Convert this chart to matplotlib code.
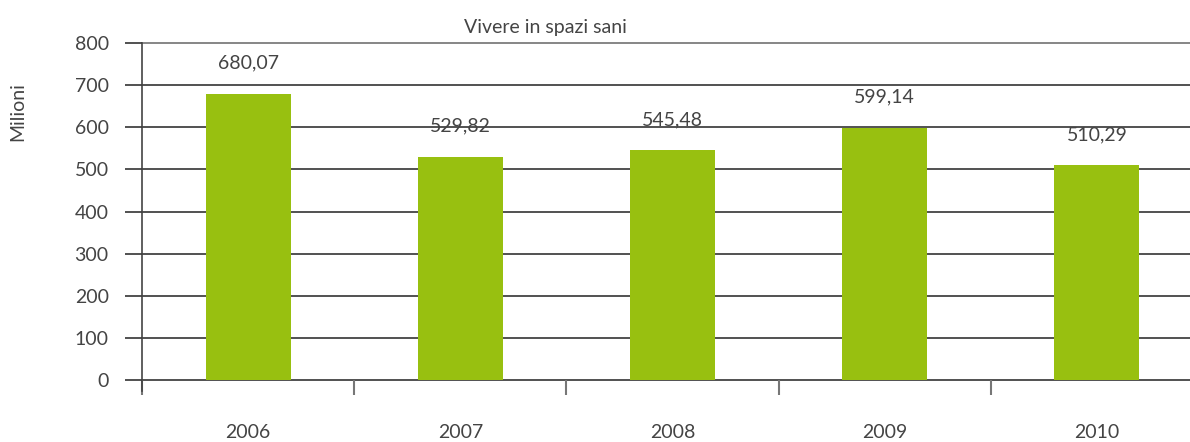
import matplotlib
matplotlib.use("Agg")
import matplotlib.pyplot as plt
import numpy as np

years = ["2006", "2007", "2008", "2009", "2010"]
values = [680.07, 529.82, 545.48, 599.14, 510.29]
value_labels = ["680,07", "529,82", "545,48", "599,14", "510,29"]
yticks = [0, 100, 200, 300, 400, 500, 600, 700, 800]
title = "Vivere in spazi sani"
ylabel = "Milioni"

plt.rcParams['font.family'] = ['Lato', 'DejaVu Sans']
plt.rcParams['font.weight'] = 'normal'
txt = '#444444'
fs = 14

fig = plt.figure(figsize=(11.9, 4.42), dpi=100)
W, H = 1190, 442
left, right = 142, 1203
bottom, top = 380, 43
ax = fig.add_axes([left / W, 1 - bottom / H, (right - left) / W, (bottom - top) / H])

x = np.arange(len(years))
ax.bar(x, values, width=0.4, color='#98c010', zorder=3)
ax.set_xlim(-0.5, len(years) - 0.5)
ax.set_ylim(0, 800)

for v in yticks:
    col = '#666666' if v == 800 else '#222222'
    ax.axhline(v, color=col, lw=1.1, zorder=1, clip_on=False)
ax.set_yticks(yticks)
ax.set_yticklabels([str(v) for v in yticks], fontsize=fs, color=txt)
ax.tick_params(axis='y', length=12, width=1.1, color='#222222', pad=12)

ax.set_xticks(x - 0.5, minor=False)
ax.set_xticklabels([''] * len(years))
ax.tick_params(axis='x', length=11, width=1.5, color='#777777', direction='out')
for xi, yr in zip(x, years):
    ax.text(xi, -52 * 800 / 337, yr, ha='center', va='center', fontsize=fs, color=txt)

for s in ['top', 'right', 'bottom']:
    ax.spines[s].set_visible(False)
ax.spines['left'].set_color('#444444')
ax.spines['left'].set_linewidth(1.2)
ax.spines['left'].set_bounds(-11 * 800 / 337, 800)

for xi, v, lab in zip(x, values, value_labels):
    ax.annotate(lab, (xi, v), xytext=(0, 22), textcoords='offset points',
                ha='center', va='center', fontsize=fs, color=txt)

fig.text(545 / W, 1 - 28 / H, title, ha='center', va='center', fontsize=fs, color=txt)
fig.text(18 / W, 1 - 112 / H, ylabel, ha='center', va='center', rotation=90, fontsize=fs, color=txt)

fig.savefig('out.png', dpi=100)
